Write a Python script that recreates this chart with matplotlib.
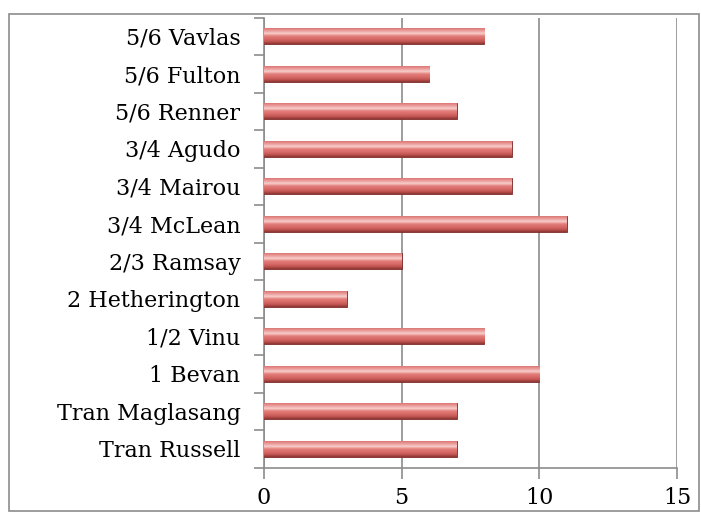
import numpy as np
import matplotlib.pyplot as plt
from matplotlib.colors import LinearSegmentedColormap
from matplotlib.patches import Rectangle

names = ["Tran Russell", "Tran Maglasang", "1 Bevan", "1/2 Vinu", "2 Hetherington",
         "2/3 Ramsay", "3/4 McLean", "3/4 Mairou", "3/4 Agudo", "5/6 Renner",
         "5/6 Fulton", "5/6 Vavlas"]
counts = [7, 7, 10, 8, 3, 5, 11, 9, 9, 7, 6, 8]
xticks = [0, 5, 10, 15]

plt.rcParams['font.family'] = ['DejaVu Serif']

fig = plt.figure(figsize=(7.01, 5.12), dpi=100)
ax = fig.add_axes([264 / 701, 1 - 467.5 / 512, (677 - 264) / 701, 450 / 512])

# outer chart border
fig.patches.append(Rectangle((9 / 701, 1 / 512), 690 / 701, 497 / 512,
                             transform=fig.transFigure, fill=False,
                             edgecolor='#8c8c8c', linewidth=1.2))

y = np.arange(len(names))
bars = ax.barh(y, counts, height=0.42, color='#d0605d', edgecolor='#7a2a28',
               linewidth=0.6, zorder=3)

# shaded bar look: dark bottom, light stripe near the top
cmap = LinearSegmentedColormap.from_list(
    "bar", ["#8e3533", "#c45855", "#d96c69", "#e27d7a", "#f8cdcb", "#eb9e9b", "#dc7774"])
grad = np.linspace(0, 1, 64).reshape(-1, 1)
for b in bars:
    x0, y0 = b.get_x(), b.get_y()
    w, h = b.get_width(), b.get_height()
    im = ax.imshow(grad, cmap=cmap, aspect='auto', origin='lower',
                   extent=(x0, x0 + w, y0, y0 + h), zorder=4)
    im.set_clip_path(b)

ax.set_xlim(0, 15)
ax.set_ylim(-0.5, len(names) - 0.5)
ax.set_xticks(xticks)
ax.set_xticklabels([str(t) for t in xticks], fontsize=16)
ax.set_yticks(y)
ax.set_yticklabels(names, fontsize=16)
ax.set_yticks(np.arange(-0.5, len(names)), minor=True)
ax.tick_params(axis='y', which='major', length=0, pad=17)
ax.tick_params(axis='y', which='minor', length=7, color='#8c8c8c', width=1.2)
ax.tick_params(axis='x', length=8, color='#8c8c8c', width=1.2, pad=6)

ax.grid(axis='x', color='#8c8c8c', linewidth=1.2, zorder=0)
ax.set_axisbelow(True)
for s in ['top', 'right']:
    ax.spines[s].set_visible(False)
for s in ['left', 'bottom']:
    ax.spines[s].set_color('#8c8c8c')
    ax.spines[s].set_linewidth(1.2)

fig.savefig("out.png", dpi=100)
